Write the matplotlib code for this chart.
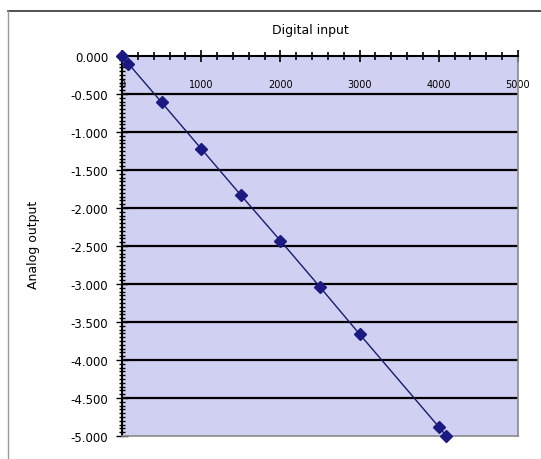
import matplotlib
matplotlib.use("Agg")
import matplotlib.pyplot as plt
from matplotlib.ticker import MultipleLocator, FixedLocator
from matplotlib.lines import Line2D

# Data
digital_input = [0, 80, 500, 1000, 1500, 2000, 2500, 3000, 4000, 4095]
analog_output = [0.0, -0.10, -0.61, -1.22, -1.83, -2.43, -3.04, -3.66, -4.88, -5.00]
x_ticks = [0, 1000, 2000, 3000, 4000, 5000]
y_ticks = [0.0, -0.5, -1.0, -1.5, -2.0, -2.5, -3.0, -3.5, -4.0, -4.5, -5.0]

fig = plt.figure(figsize=(5.41, 4.60), dpi=100)
fig.patch.set_facecolor("white")
ax = fig.add_axes([122/541, 1-437/460, (518-122)/541, (437-57)/460])
ax.set_facecolor("#d0d0f2")

ax.plot(digital_input, analog_output, color="#1a1a6e", lw=1.0,
        marker="D", markersize=6, markerfacecolor="#1a1a80",
        markeredgecolor="#1a1a80", zorder=5, clip_on=False)

ax.set_xlim(0, 5000)
ax.set_ylim(-5, 0)

ax.yaxis.set_major_locator(FixedLocator(y_ticks))
ax.yaxis.set_minor_locator(MultipleLocator(0.05))
ax.set_yticklabels([f"{v:.3f}" for v in y_ticks])
ax.xaxis.set_major_locator(FixedLocator(x_ticks))
ax.xaxis.set_minor_locator(MultipleLocator(200))
ax.set_xticklabels([str(v) for v in x_ticks])

ax.xaxis.tick_top()
ax.tick_params(axis="x", which="both", top=True, bottom=False, labeltop=True,
               labelbottom=False, direction="inout", color="black", width=1.2)
ax.tick_params(axis="x", which="major", length=9, pad=-28, labelsize=7)
ax.tick_params(axis="x", which="minor", length=6)
ax.tick_params(axis="y", which="both", direction="inout", color="black", width=1.0)
ax.tick_params(axis="y", which="major", length=8, labelsize=8.5, pad=6)
ax.tick_params(axis="y", which="minor", length=5)

for yv in y_ticks[1:-1]:
    ax.axhline(yv, color="black", lw=1.6, zorder=2)

ax.spines["top"].set_color("black")
ax.spines["top"].set_linewidth(1.5)
ax.spines["left"].set_color("black")
ax.spines["left"].set_linewidth(1.5)
ax.spines["right"].set_color("#8a8a8a")
ax.spines["right"].set_linewidth(1.2)
ax.spines["bottom"].set_color("#8a8a8a")
ax.spines["bottom"].set_linewidth(1.2)

fig.text(310/541, 1-31/460, "Digital input", ha="center", va="center", fontsize=9)
fig.text(33/541, 1-245/460, "Analog output", ha="center", va="center",
         rotation=90, fontsize=9)

# outer frame (top and left)
fig.add_artist(Line2D([8/541, 1.0], [1-12/460, 1-12/460], color="#333333", lw=1.2,
                      transform=fig.transFigure))
fig.add_artist(Line2D([8/541, 8/541], [0, 1-12/460], color="#9a9a9a", lw=1.0,
                      transform=fig.transFigure))

fig.savefig("out.png", dpi=100)
